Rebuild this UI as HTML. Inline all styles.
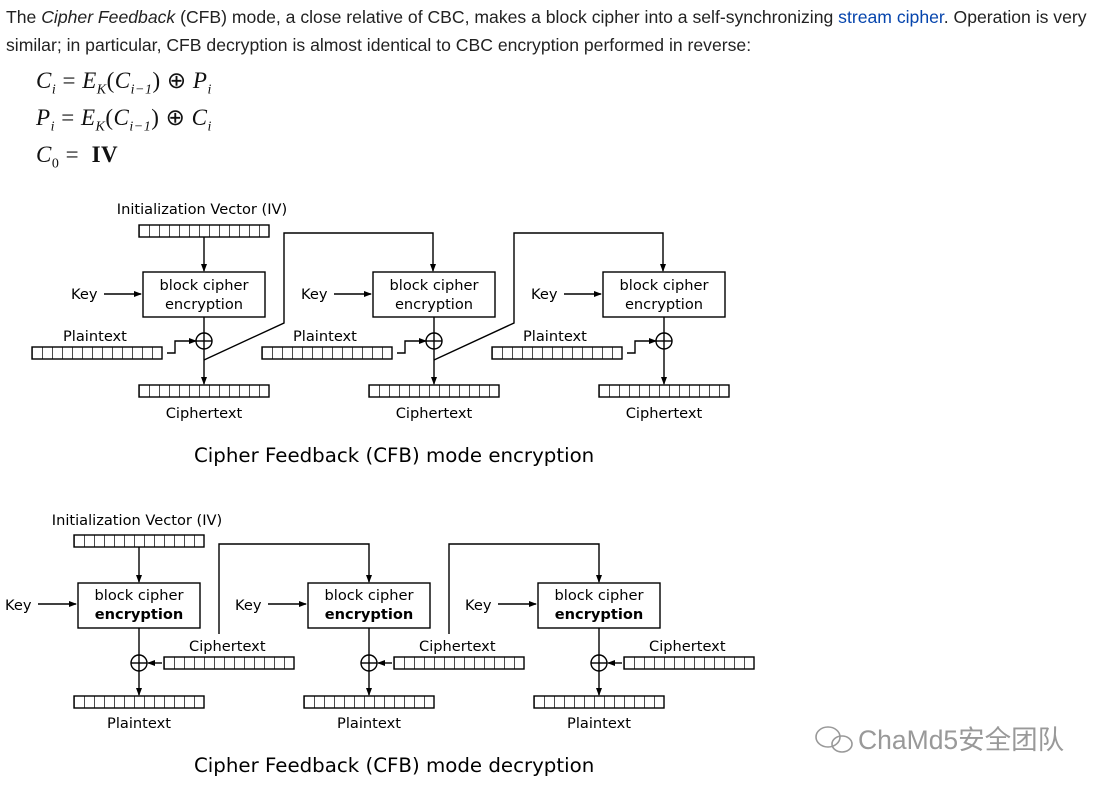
<!DOCTYPE html>
<html><head><meta charset="utf-8"><style>
body{margin:0;background:#fff;width:1102px;height:787px;overflow:hidden;position:relative;font-family:"Liberation Sans",Arial,sans-serif}
.p{position:absolute;left:6px;font-size:17.6px;color:#222;white-space:nowrap}
.p a{color:#0645ad;text-decoration:none}
.f{position:absolute;left:36px;font-family:"Liberation Serif",serif;font-size:23px;color:#111;white-space:nowrap;letter-spacing:0.5px}
.f i{font-style:italic}
sub{font-size:14px}
svg{position:absolute;left:0;top:0}
</style></head><body>
<div class="p" style="top:7px">The <i>Cipher Feedback</i> (CFB) mode, a close relative of CBC, makes a block cipher into a self-synchronizing <a>stream cipher</a>. Operation is very</div>
<div class="p" style="top:35px">similar; in particular, CFB decryption is almost identical to CBC encryption performed in reverse:</div>
<div class="f" style="top:68px"><i>C<sub>i</sub></i> = <i>E<sub>K</sub></i>(<i>C<sub>i−1</sub></i>) ⊕ <i>P<sub>i</sub></i></div>
<div class="f" style="top:105px"><i>P<sub>i</sub></i> = <i>E<sub>K</sub></i>(<i>C<sub>i−1</sub></i>) ⊕ <i>C<sub>i</sub></i></div>
<div class="f" style="top:142px"><i>C</i><sub>0</sub> = &nbsp;<b>IV</b></div>
<svg width="1102" height="787" font-family="DejaVu Sans,sans-serif" font-size="14.6" fill="#000">
<defs>
<marker id="a" markerWidth="8" markerHeight="8" refX="7" refY="4" orient="auto" markerUnits="userSpaceOnUse"><path d="M0,1 L8,4 L0,7 z" fill="#000"/></marker>
<pattern id="p9" patternUnits="userSpaceOnUse" x="9" y="0" width="10" height="20"><line x1="0" y1="0" x2="0" y2="20" stroke="#000" stroke-width="1.4"/></pattern>
<pattern id="p2" patternUnits="userSpaceOnUse" x="2" y="0" width="10" height="20"><line x1="0" y1="0" x2="0" y2="20" stroke="#000" stroke-width="1.4"/></pattern>
<pattern id="p4" patternUnits="userSpaceOnUse" x="4" y="0" width="10" height="20"><line x1="0" y1="0" x2="0" y2="20" stroke="#000" stroke-width="1.4"/></pattern>
<g id="enc" stroke-width="1.4">
<rect x="143" y="272" width="122" height="45" fill="#fff" stroke="#000"/>
<text x="204" y="290" text-anchor="middle">block cipher</text>
<text x="204" y="309" text-anchor="middle">encryption</text>
<text x="71" y="299">Key</text>
<line x1="104" y1="294" x2="141" y2="294" stroke="#000" marker-end="url(#a)"/>
<text x="63" y="341">Plaintext</text>
<rect x="32" y="347" width="130" height="12" fill="url(#p2)" stroke="#000"/>
<polyline points="167,353 175,353 175,341 196,341" fill="none" stroke="#000" marker-end="url(#a)"/>
<circle cx="204" cy="341" r="8" fill="none" stroke="#000"/>
<line x1="196" y1="341" x2="212" y2="341" stroke="#000"/>
<line x1="204" y1="317" x2="204" y2="384" stroke="#000" marker-end="url(#a)"/>
<rect x="139" y="385" width="130" height="12" fill="url(#p9)" stroke="#000"/>
<text x="204" y="418" text-anchor="middle">Ciphertext</text>
</g>
<g id="dec" stroke-width="1.4">
<rect x="78" y="583" width="122" height="45" fill="#fff" stroke="#000"/>
<text x="139" y="600" text-anchor="middle">block cipher</text>
<text x="139" y="619" text-anchor="middle" font-weight="bold">encryption</text>
<text x="5" y="610">Key</text>
<line x1="38" y1="604" x2="76" y2="604" stroke="#000" marker-end="url(#a)"/>
<line x1="139" y1="628" x2="139" y2="695" stroke="#000" marker-end="url(#a)"/>
<circle cx="139" cy="663" r="8" fill="none" stroke="#000"/>
<line x1="131" y1="663" x2="147" y2="663" stroke="#000"/>
<text x="189" y="651">Ciphertext</text>
<rect x="164" y="657" width="130" height="12" fill="url(#p4)" stroke="#000"/>
<line x1="162" y1="663" x2="148" y2="663" stroke="#000" marker-end="url(#a)"/>
<rect x="74" y="696" width="130" height="12" fill="url(#p4)" stroke="#000"/>
<text x="139" y="728" text-anchor="middle">Plaintext</text>
</g>
<polyline id="fe" points="204,360 284,323 284,233 433,233 433,271" fill="none" stroke="#000" stroke-width="1.4" marker-end="url(#a)"/>
<polyline id="fd" points="219,634 219,544 369,544 369,582" fill="none" stroke="#000" stroke-width="1.4" marker-end="url(#a)"/>
</defs>
<use href="#enc"/><use href="#enc" x="230"/><use href="#enc" x="460"/>
<use href="#fe"/><use href="#fe" x="230"/>
<text x="202" y="214" text-anchor="middle">Initialization Vector (IV)</text>
<rect x="139" y="225" width="130" height="12" fill="url(#p9)" stroke="#000" stroke-width="1.4"/>
<line x1="204" y1="237" x2="204" y2="271" stroke="#000" stroke-width="1.4" marker-end="url(#a)"/>
<text x="194" y="462" font-size="19.8">Cipher Feedback (CFB) mode encryption</text>
<use href="#dec"/><use href="#dec" x="230"/><use href="#dec" x="460"/>
<use href="#fd"/><use href="#fd" x="230"/>
<text x="137" y="525" text-anchor="middle">Initialization Vector (IV)</text>
<rect x="74" y="535" width="130" height="12" fill="url(#p4)" stroke="#000" stroke-width="1.4"/>
<line x1="139" y1="547" x2="139" y2="582" stroke="#000" stroke-width="1.4" marker-end="url(#a)"/>
<text x="194" y="772" font-size="19.8">Cipher Feedback (CFB) mode decryption</text>
<g fill="none" stroke="#999" stroke-width="1.6"><ellipse cx="828" cy="737" rx="12" ry="10"/><ellipse cx="842" cy="744" rx="10" ry="8"/></g>
<text x="858" y="749" font-size="26.5" fill="#999" font-family="Liberation Sans,Noto Sans CJK SC,sans-serif">ChaMd5安全团队</text>
</svg>
</body></html>
